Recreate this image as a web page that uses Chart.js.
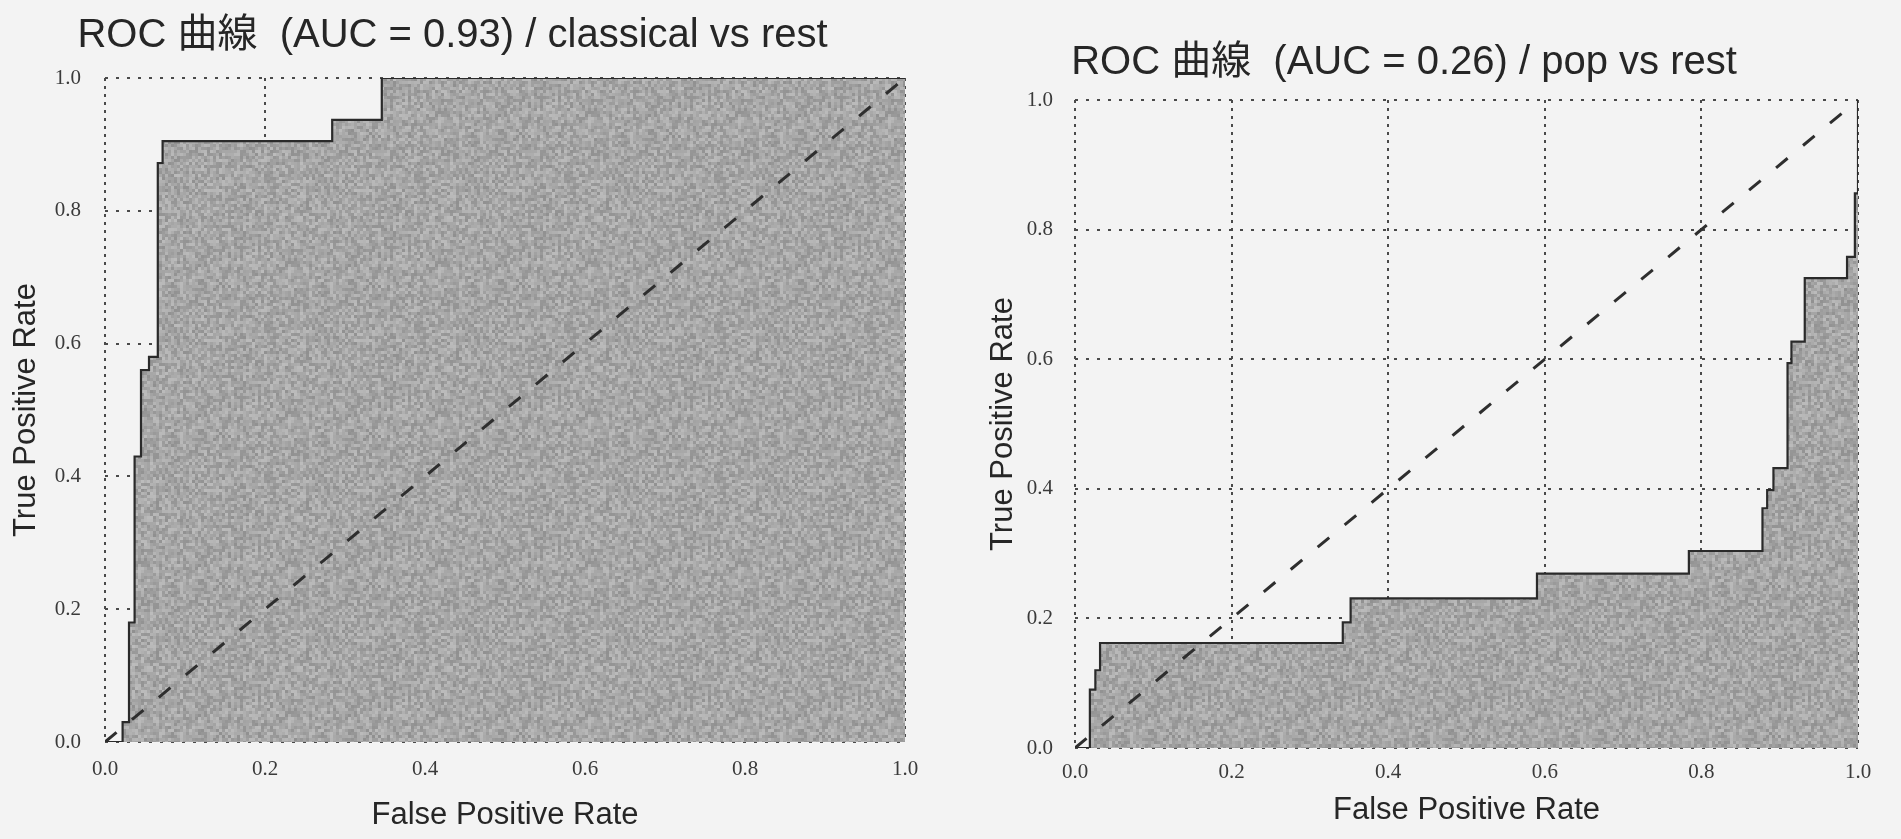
<!DOCTYPE html>
<html>
<head>
<meta charset="utf-8">
<script src="https://cdn.jsdelivr.net/npm/chart.js@4.4.1/dist/chart.umd.min.js"></script>
<style>
  html, body { margin: 0; padding: 0; background: #f3f3f3; }
  body { width: 1901px; height: 839px; position: relative; overflow: hidden; }
  .box { position: absolute; top: 0; height: 839px; }
  #boxL { left: 0; width: 950px; }
  #boxR { left: 950px; width: 951px; }
</style>
</head>
<body>
<div class="box" id="boxL"><canvas id="cL" width="950" height="839"></canvas></div>
<div class="box" id="boxR"><canvas id="cR" width="951" height="839"></canvas></div>
<script>
// ---- data ----
const titleLeft = 'ROC 曲線  (AUC = 0.93) / classical vs rest';
const titleRight = 'ROC 曲線  (AUC = 0.26) / pop vs rest';
const xAxisTitle = 'False Positive Rate';
const yAxisTitle = 'True Positive Rate';
const tickValues = [0, 0.2, 0.4, 0.6, 0.8, 1.0];
const tickLabels = ['0.0', '0.2', '0.4', '0.6', '0.8', '1.0'];

const classicalFpr = [0, 0.022, 0.022, 0.03, 0.03, 0.037, 0.037, 0.045, 0.045, 0.055, 0.055, 0.066, 0.066, 0.072, 0.072, 0.284, 0.284, 0.346, 0.346, 1.0];
const classicalTpr = [0, 0, 0.03, 0.03, 0.18, 0.18, 0.43, 0.43, 0.56, 0.56, 0.58, 0.58, 0.872, 0.872, 0.905, 0.905, 0.937, 0.937, 1.0, 1.0];

const popFpr = [0, 0.019, 0.019, 0.026, 0.026, 0.032, 0.032, 0.342, 0.342, 0.352, 0.352, 0.59, 0.59, 0.784, 0.784, 0.878, 0.878, 0.884, 0.884, 0.892, 0.892, 0.91, 0.91, 0.915, 0.915, 0.932, 0.932, 0.986, 0.986, 0.996, 0.996, 1.0, 1.0];
const popTpr = [0, 0, 0.09, 0.09, 0.12, 0.12, 0.162, 0.162, 0.194, 0.194, 0.231, 0.231, 0.269, 0.269, 0.304, 0.304, 0.37, 0.37, 0.398, 0.398, 0.432, 0.432, 0.594, 0.594, 0.627, 0.627, 0.725, 0.725, 0.758, 0.758, 0.856, 0.856, 1.0];

const chanceFpr = [0, 1];
const chanceTpr = [0, 1];

// ---- helpers ----
function pts(xs, ys) { return xs.map((x, i) => ({ x: x, y: ys[i] })); }

function hash(n) {
  const s = Math.sin(n * 12.9898 + 78.233) * 43758.5453;
  return s - Math.floor(s);
}
function makeTexture(base) {
  const size = 150;
  const cell = 3;
  const c = document.createElement('canvas');
  c.width = size; c.height = size;
  const g = c.getContext('2d');
  const img = g.createImageData(size, size);
  for (let y = 0; y < size; y++) {
    for (let x = 0; x < size; x++) {
      const cx = Math.floor(x / cell), cy = Math.floor(y / cell);
      const n = hash(cx * 131 + cy * 7919);
      const v = Math.round(base + (n - 0.5) * 44);
      const k = (y * size + x) * 4;
      img.data[k] = v; img.data[k + 1] = v; img.data[k + 2] = v; img.data[k + 3] = 255;
    }
  }
  g.putImageData(img, 0, 0);
  return g.createPattern(c, 'repeat');
}

const sansFamily = "'Liberation Sans', 'Noto Sans CJK JP', Arial, sans-serif";
const serifFamily = "'Liberation Serif', 'DejaVu Serif', serif";

function makeChart(canvasId, cfg) {
  const ctx = document.getElementById(canvasId).getContext('2d');
  const fillPattern = makeTexture(166);
  return new Chart(ctx, {
    type: 'line',
    data: {
      datasets: [
        {
          label: 'chance',
          data: pts(chanceFpr, chanceTpr),
          borderColor: '#2e2e2e',
          borderWidth: 3,
          borderDash: [15, 20],
          pointRadius: 0,
          fill: false,
          order: 0
        },
        {
          label: 'ROC',
          data: pts(cfg.fpr, cfg.tpr),
          borderColor: '#2a2a2a',
          borderWidth: 2.2,
          pointRadius: 0,
          tension: 0,
          fill: 'origin',
          backgroundColor: fillPattern,
          order: 1
        }
      ]
    },
    options: {
      responsive: false,
      animation: false,
      devicePixelRatio: 1,
      layout: { padding: { left: 0, right: cfg.padRight, top: 0, bottom: 0 } },
      plugins: {
        legend: { display: false },
        tooltip: { enabled: false },
        title: {
          display: true,
          text: cfg.title,
          color: '#262626',
          font: { family: sansFamily, size: 40, weight: 'normal' },
          padding: { top: cfg.titleTop, bottom: cfg.titleBottom }
        }
      },
      scales: {
        x: {
          type: 'linear',
          min: 0, max: 1,
          afterFit: s => { s.height = cfg.xHeight; },
          afterBuildTicks: s => { s.ticks = tickValues.map(v => ({ value: v })); },
          ticks: {
            padding: cfg.xTickPad,
            color: '#3a3a3a',
            font: { family: serifFamily, size: 21 },
            maxRotation: 0,
            callback: (v, i) => tickLabels[i]
          },
          grid: { drawTicks: false, color: '#4a4a4a', lineWidth: 2, borderDash: [3, 5] },
          border: { display: false, dash: [3, 5] },
          title: {
            display: true,
            text: xAxisTitle,
            color: '#262626',
            font: { family: sansFamily, size: 31 },
            padding: { top: 0, bottom: cfg.xTitlePad }
          }
        },
        y: {
          type: 'linear',
          min: 0, max: 1,
          afterFit: s => { s.width = cfg.yWidth; },
          afterBuildTicks: s => { s.ticks = tickValues.map(v => ({ value: v })); },
          ticks: {
            padding: cfg.yTickPad,
            color: '#3a3a3a',
            font: { family: serifFamily, size: 21 },
            callback: (v, i) => tickLabels[i]
          },
          grid: { drawTicks: false, color: '#4a4a4a', lineWidth: 2, borderDash: [3, 8] },
          border: { display: false, dash: [3, 8] },
          title: {
            display: true,
            text: yAxisTitle,
            color: '#262626',
            font: { family: sansFamily, size: 31 },
            padding: { top: cfg.yTitlePad, bottom: 0 }
          }
        }
      }
    }
  });
}

makeChart('cL', {
  title: titleLeft, fpr: classicalFpr, tpr: classicalTpr,
  padRight: 45, titleTop: 12, titleBottom: 18,
  xHeight: 97, xTickPad: 15, xTitlePad: 5,
  yWidth: 105, yTickPad: 24, yTitlePad: 8
});
makeChart('cR', {
  title: titleRight, fpr: popFpr, tpr: popTpr,
  padRight: 43, titleTop: 39, titleBottom: 13,
  xHeight: 91, xTickPad: 12, xTitlePad: 10,
  yWidth: 125, yTickPad: 22, yTitlePad: 35
});
</script>
</body>
</html>
